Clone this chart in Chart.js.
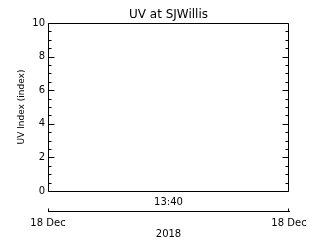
<!DOCTYPE html>
<html lang="en">
<head>
    <meta charset="UTF-8">
    <title>UV at SJWillis</title>
    <script src="https://cdn.jsdelivr.net/npm/chart.js"></script>
    <style>
        body {
            margin: 0;
            background: #fff;
        }
        #uvChart {
            display: block;
        }
    </style>
</head>
<body>
    <canvas id="uvChart" width="320" height="240"></canvas>

    <script>
        // chart data
        const timeLabels = ['13:40'];
        const uvValues = [null];          // no readings in the window
        const dateLabels = ['18 Dec', '18 Dec'];
        const yearLabel = '2018';
        const titleText = 'UV at SJWillis';
        const yTitle = 'UV Index (index)';

        Chart.defaults.font.family = 'DejaVu Sans';
        Chart.defaults.color = '#000';

        // box round the plot, with inward ticks on both sides
        const framePlugin = {
            id: 'frame',
            afterDraw(chart) {
                const ctx = chart.ctx;
                const area = chart.chartArea;
                const y = chart.scales.y;
                const x0 = Math.round(area.left) + 0.5;
                const x1 = Math.round(area.right) - 0.5;
                const y0 = Math.round(area.top) + 0.5;
                const y1 = Math.round(area.bottom) + 0.5;

                ctx.save();
                ctx.strokeStyle = '#000';
                ctx.lineWidth = 1;
                ctx.beginPath();
                ctx.rect(x0, y0, x1 - x0, y1 - y0);

                for (let v = y.min; v <= y.max; v += 0.5) {
                    const py = Math.round(y.getPixelForValue(v)) + 0.5;
                    const len = v % 2 === 0 ? 6 : 3;
                    ctx.moveTo(x0, py);
                    ctx.lineTo(x0 + len, py);
                    ctx.moveTo(x1, py);
                    ctx.lineTo(x1 - len, py);
                }

                // end ticks on the date axis
                const x2 = chart.scales.x2;
                const by = Math.round(x2.top) + 0.5;
                ctx.moveTo(x0, by);
                ctx.lineTo(x0, by - 3);
                ctx.moveTo(x1, by);
                ctx.lineTo(x1, by - 3);
                ctx.stroke();
                ctx.restore();
            }
        };

        new Chart(document.getElementById('uvChart'), {
            type: 'line',
            data: {
                labels: timeLabels,
                datasets: [{
                    label: 'UV',
                    data: uvValues,
                    borderColor: '#000',
                    borderWidth: 1,
                    pointRadius: 0
                }]
            },
            options: {
                responsive: false,
                animation: false,
                layout: { padding: { left: 0, right: 31, top: 0, bottom: 0 } },
                plugins: {
                    legend: { display: false },
                    tooltip: { enabled: false },
                    title: {
                        display: true,
                        text: titleText,
                        fullSize: false,
                        font: { size: 12, weight: 'normal' },
                        padding: { top: 8, bottom: 0.6 }
                    }
                },
                scales: {
                    x: {
                        type: 'category',
                        offset: true,
                        weight: 0,
                        grid: { display: false, drawTicks: false },
                        border: { display: false },
                        ticks: { font: { size: 10 }, padding: 5, maxRotation: 0 },
                        afterFit(scale) {
                            scale.height = 20;
                            scale.paddingLeft = 0;
                            scale.paddingRight = 0;
                        }
                    },
                    x2: {
                        type: 'category',
                        position: 'bottom',
                        labels: dateLabels,
                        offset: false,
                        weight: 1,
                        grid: { display: false, drawTicks: false },
                        border: { display: true, color: '#000', width: 1 },
                        ticks: { font: { size: 10 }, padding: 6, maxRotation: 0, autoSkip: false },
                        title: {
                            display: true,
                            text: yearLabel,
                            font: { size: 10 },
                            padding: { top: 0, bottom: 0 }
                        },
                        afterFit(scale) {
                            scale.height = 29;
                            scale.paddingLeft = 0;
                            scale.paddingRight = 0;
                        }
                    },
                    y: {
                        min: 0,
                        max: 10,
                        grid: { display: false, drawTicks: false },
                        border: { display: false },
                        ticks: { stepSize: 2, font: { size: 10 }, padding: 3 },
                        title: {
                            display: true,
                            text: yTitle,
                            font: { size: 9 },
                            padding: { top: 16, bottom: 0 }
                        },
                        afterFit(scale) {
                            scale.width = 48;
                        }
                    }
                }
            },
            plugins: [framePlugin]
        });
    </script>
</body>
</html>
